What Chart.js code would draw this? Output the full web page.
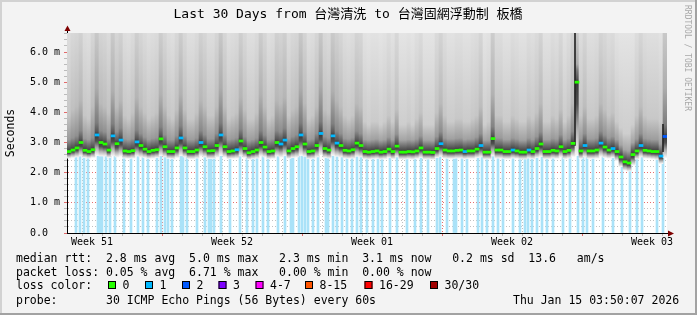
<!doctype html>
<html lang="en">
<head>
<meta charset="UTF-8">
<title>Last 30 Days - SmokePing</title>
<script src="https://cdn.jsdelivr.net/npm/chart.js"></script>
<style>
  html, body { margin: 0; padding: 0; background: #f3f3f3; }
  #wrap { width: 697px; height: 315px; }
</style>
</head>
<body>
<div id="wrap"><canvas id="smokeChart" width="697" height="315"></canvas></div>
<script>
// one column = 0.2 day, oldest first (150 columns = 30 days)
const median = [
  2.70, 2.75, 2.82, 3.00, 2.74, 2.70, 2.76, 3.25, 3.00, 2.95,
  2.75, 3.22, 2.96, 3.08, 2.72, 2.70, 2.73, 3.02, 2.90, 2.78,
  2.70, 2.74, 2.76, 3.12, 2.86, 2.70, 2.70, 2.82, 3.15, 2.82,
  2.70, 2.70, 2.75, 3.00, 2.86, 2.72, 2.73, 2.90, 3.25, 2.86,
  2.70, 2.72, 2.76, 3.05, 2.80, 2.66, 2.70, 2.75, 3.00, 2.85,
  2.70, 2.72, 3.00, 2.95, 3.08, 2.72, 2.80, 2.86, 3.25, 2.95,
  2.70, 2.72, 2.90, 3.30, 2.80, 2.75, 3.22, 2.98, 2.90, 2.74,
  2.72, 2.76, 2.98, 2.90, 2.70, 2.68, 2.70, 2.72, 2.68, 2.70,
  2.78, 2.70, 2.88, 2.68, 2.68, 2.70, 2.69, 2.72, 2.82, 2.68,
  2.68, 2.67, 2.80, 2.96, 2.75, 2.72, 2.72, 2.74, 2.75, 2.70,
  2.72, 2.72, 2.78, 2.90, 2.68, 2.68, 3.13, 2.75, 2.75, 2.70,
  2.70, 2.75, 2.72, 2.68, 2.68, 2.75, 2.70, 2.80, 2.95, 2.70,
  2.70, 2.74, 2.72, 2.86, 2.70, 2.74, 2.97, 5.00, 2.72, 2.90,
  2.72, 2.72, 2.75, 2.98, 2.85, 2.75, 2.80, 2.70, 2.52, 2.36,
  2.32, 2.60, 2.72, 2.90, 2.74, 2.72, 2.70, 2.70, 2.55, 3.20
];
// lower edge of the smoke (fastest pings)
const smokeLow = [
  2.48, 2.50, 2.52, 2.55, 2.50, 2.48, 2.50, 2.58, 2.55, 2.55,
  2.50, 2.56, 2.52, 2.55, 2.48, 2.47, 2.48, 2.55, 2.52, 2.50,
  2.47, 2.48, 2.50, 2.56, 2.52, 2.47, 2.46, 2.50, 2.56, 2.52,
  2.46, 2.46, 2.48, 2.55, 2.52, 2.47, 2.47, 2.52, 2.58, 2.52,
  2.46, 2.47, 2.48, 2.55, 2.50, 2.44, 2.46, 2.48, 2.55, 2.52,
  2.46, 2.47, 2.55, 2.52, 2.56, 2.47, 2.50, 2.52, 2.58, 2.54,
  2.46, 2.47, 2.52, 2.60, 2.50, 2.48, 2.58, 2.54, 2.52, 2.48,
  2.47, 2.48, 2.54, 2.52, 2.46, 2.45, 2.46, 2.47, 2.45, 2.46,
  2.50, 2.46, 2.52, 2.45, 2.45, 2.46, 2.45, 2.47, 2.50, 2.45,
  2.45, 2.44, 2.50, 2.54, 2.48, 2.47, 2.47, 2.48, 2.48, 2.46,
  2.47, 2.47, 2.50, 2.52, 2.45, 2.45, 2.55, 2.48, 2.48, 2.46,
  2.46, 2.48, 2.47, 2.45, 2.45, 2.48, 2.46, 2.50, 2.53, 2.46,
  2.46, 2.48, 2.47, 2.52, 2.46, 2.48, 2.54, 2.60, 2.47, 2.52,
  2.47, 2.47, 2.48, 2.54, 2.50, 2.48, 2.50, 2.40, 2.20, 2.08,
  2.05, 2.25, 2.45, 2.52, 2.48, 2.47, 2.46, 2.44, 2.30, 2.50
];
// where the dense part of the smoke thins out above the median
const smokeHigh = [
  3.9, 4.1, 4.2, 4.4, 3.9, 3.8, 4.2, 4.8, 4.3, 4.2,
  4.0, 4.7, 4.2, 4.4, 3.9, 3.8, 4.0, 4.5, 4.2, 4.0,
  3.8, 3.9, 4.0, 4.6, 4.2, 3.9, 3.8, 4.1, 4.6, 4.1,
  3.8, 3.8, 4.0, 4.4, 4.2, 3.9, 3.9, 4.2, 4.8, 4.2,
  3.8, 3.9, 4.0, 4.5, 4.1, 3.8, 3.8, 4.0, 4.6, 4.2,
  3.8, 3.9, 4.4, 4.3, 4.5, 3.9, 4.1, 4.2, 4.8, 4.3,
  3.8, 3.9, 4.2, 4.9, 4.1, 4.0, 4.7, 4.4, 4.2, 3.9,
  3.8, 3.9, 4.3, 4.2, 3.7, 3.6, 3.7, 3.7, 3.6, 3.7,
  3.9, 3.7, 4.1, 3.6, 3.6, 3.7, 3.6, 3.8, 4.0, 3.6,
  3.6, 3.6, 4.0, 4.3, 3.9, 3.7, 3.7, 3.8, 3.8, 3.7,
  3.7, 3.8, 3.9, 4.2, 3.6, 3.7, 4.6, 3.9, 3.9, 3.7,
  3.7, 3.9, 3.8, 3.7, 3.7, 3.9, 3.8, 4.0, 4.3, 3.7,
  3.7, 3.9, 3.8, 4.1, 3.7, 3.9, 4.3, 5.6, 3.9, 4.2,
  3.8, 3.8, 3.9, 4.3, 4.1, 3.9, 4.0, 3.7, 3.5, 3.3,
  3.3, 3.6, 3.9, 4.2, 3.9, 3.8, 3.8, 3.8, 3.7, 4.8
];
// lost pings out of 30 per column (median colour)
const lostPings = [
  0, 0, 0, 0, 0, 0, 0, 1, 0, 0,
  0, 1, 0, 1, 0, 0, 0, 1, 0, 0,
  0, 0, 0, 0, 0, 0, 0, 0, 1, 0,
  0, 0, 0, 1, 0, 0, 0, 0, 1, 0,
  0, 0, 1, 0, 0, 0, 0, 0, 0, 0,
  0, 0, 0, 1, 1, 0, 0, 0, 1, 0,
  0, 0, 0, 1, 0, 0, 1, 1, 0, 0,
  0, 0, 0, 0, 0, 0, 0, 0, 0, 0,
  0, 0, 0, 0, 0, 0, 0, 0, 0, 0,
  0, 0, 0, 1, 0, 0, 0, 0, 0, 1,
  0, 0, 0, 1, 0, 0, 0, 0, 0, 0,
  0, 1, 0, 0, 0, 1, 0, 0, 0, 0,
  0, 0, 0, 0, 0, 0, 0, 0, 0, 1,
  0, 0, 0, 1, 0, 0, 1, 0, 0, 0,
  0, 0, 0, 1, 0, 0, 0, 0, 1, 2
];
// days (from graph start) with packet loss
const lossDays = [
  0.45, 0.65, 0.85, 1.05, 1.55, 1.65, 1.75, 1.95, 2.15, 2.40,
  2.85, 3.20, 3.55, 3.80, 4.05, 4.50, 4.70, 4.90, 5.05, 5.25,
  5.70, 5.80, 6.00, 6.50, 6.90, 7.10, 7.20, 7.35, 7.70, 8.15,
  8.65, 9.00, 9.30, 9.50, 9.80, 10.05, 10.55, 10.90, 11.20, 11.30,
  11.60, 11.75, 11.90, 12.05, 12.30, 12.55, 12.95, 13.05, 13.30, 13.50,
  13.75, 14.00, 14.25, 14.50, 14.70, 15.00, 15.30, 15.55, 15.75, 16.15,
  16.50, 17.00, 17.40, 17.70, 18.05, 18.50, 18.65, 19.00, 19.35, 19.45,
  19.75, 20.00, 20.55, 20.75, 21.00, 21.30, 21.55, 21.80, 22.30, 22.65,
  22.90, 23.05, 23.25, 23.50, 23.75, 24.00, 24.30, 24.80, 25.15, 25.55,
  25.80, 26.00, 26.30, 26.80, 27.30, 27.75, 28.15, 28.50, 28.75, 29.50,
  29.80
];
// single very slow pings drawn as thin dark streaks
const spikeDays = [25.4, 29.8];
const spikeBases = [2.9, 2.7];
const spikeTops = [6.63, 3.6];

const weekLabels = ['Week 51', 'Week 52', 'Week 01', 'Week 02', 'Week 03'];
const weekLabelDays = [1.25, 8.25, 15.25, 22.25, 29.25];
const weekStartDays = [4.75, 11.75, 18.75, 25.75];
const dayLineFirst = 0.75;

const lossLabels = ['0', '1', '2', '3', '4-7', '8-15', '16-29', '30/30'];
const lossColors = ['#26ff00', '#00b8ff', '#0059ff', '#7e00ff', '#ff00ff', '#ff5500', '#ff0000', '#a00000'];

const Y_MAX = 6.63;
const COL_DAYS = 0.2;
const MEDIAN_HALF = 0.035;

const MONO = '"DejaVu Sans Mono", "Noto Sans CJK TC", monospace';
const near = (a, b) => Math.abs(a - b) < 1e-6;

const colX = median.map((v, i) => +(COL_DAYS / 2 + COL_DAYS * i).toFixed(2));

const gray = n => { const h = Math.round(n).toString(16).padStart(2, '0'); return '#' + h + h + h; };

// gray gradient for one smoke column; taller smoke gives a darker streak
function smokeFill(ctx) {
  const chart = ctx.chart;
  if (!chart.chartArea || ctx.type !== 'data') return '#cccccc';
  const y = chart.scales.y, i = ctx.dataIndex;
  const top = y.getPixelForValue(Y_MAX), bot = y.getPixelForValue(smokeLow[i]);
  const f = v => Math.min(1, Math.max(0, (y.getPixelForValue(v) - top) / (bot - top)));
  const g = chart.ctx.createLinearGradient(0, top, 0, bot);
  const m = median[i], lo = smokeLow[i], hi = Math.max(smokeHigh[i], m + 0.5);
  const t = Math.min(1, Math.max(0, (smokeHigh[i] - 3.6) / 1.2));
  g.addColorStop(0, gray(228 - 28 * t));
  g.addColorStop(f(hi), gray(206 - 34 * t));
  g.addColorStop(f(m + 0.4), gray(164 - 40 * t));
  g.addColorStop(f(m + 0.12), '#585858');
  g.addColorStop(f(m), '#383838');
  g.addColorStop(f(m - (m - lo) * 0.3), '#505050');
  g.addColorStop(f(m - (m - lo) * 0.65), '#b0b0b0');
  g.addColorStop(1, '#f4f4f4');
  return g;
}

function xTickValues() {
  const vals = [];
  for (let k = 0; k < 30; k++) vals.push(dayLineFirst + k);
  weekLabelDays.forEach(d => vals.push(d));
  return vals.sort((a, b) => a - b);
}

const rrdDecor = {
  id: 'rrdDecor',
  beforeDraw(chart) {
    const c = chart.ctx, a = chart.chartArea;
    c.save();
    c.fillStyle = '#f3f3f3';
    c.fillRect(0, 0, 697, 315);
    c.fillStyle = '#d2d2d2';
    c.fillRect(0, 0, 697, 2);
    c.fillRect(0, 0, 2, 315);
    c.fillStyle = '#a2a2a2';
    c.fillRect(0, 313, 697, 2);
    c.fillRect(695, 0, 2, 315);
    c.fillStyle = '#ffffff';
    c.fillRect(a.left, a.top, a.right - a.left, a.bottom - a.top);
    c.restore();
  },
  afterDraw(chart) {
    const c = chart.ctx, a = chart.chartArea;
    c.save();
    // axis extensions and arrows
    c.strokeStyle = '#000';
    c.lineWidth = 1;
    c.beginPath();
    c.moveTo(a.left + 0.5, a.top);
    c.lineTo(a.left + 0.5, 29);
    c.moveTo(a.right, a.bottom + 0.5);
    c.lineTo(669, a.bottom + 0.5);
    c.stroke();
    c.fillStyle = '#7f0000';
    c.beginPath();
    c.moveTo(a.left + 0.5, 25.5);
    c.lineTo(a.left - 2.5, 31);
    c.lineTo(a.left + 3.5, 31);
    c.closePath();
    c.fill();
    c.beginPath();
    c.moveTo(674, a.bottom + 0.5);
    c.lineTo(668, a.bottom - 2.5);
    c.lineTo(668, a.bottom + 3.5);
    c.closePath();
    c.fill();

    // title
    c.fillStyle = '#000';
    c.font = '13px ' + MONO;
    c.textAlign = 'center';
    c.textBaseline = 'middle';
    c.fillText('Last 30 Days from 台灣清洗 to 台灣固網浮動制 板橋', 348, 15);

    // vertical axis title
    c.save();
    c.translate(11, 133);
    c.rotate(-Math.PI / 2);
    c.font = '11.5px ' + MONO;
    c.fillText('Seconds', 0, 0);
    c.restore();

    // watermark
    c.save();
    c.translate(687, 5);
    c.rotate(Math.PI / 2);
    c.font = '8px ' + MONO;
    c.fillStyle = '#a8a8a8';
    c.textAlign = 'left';
    c.fillText('RRDTOOL / TOBI OETIKER', 0, 0);
    c.restore();

    // legend rows
    c.font = '11.5px ' + MONO;
    c.textAlign = 'left';
    c.fillStyle = '#000';
    c.fillText('median rtt:  2.8 ms avg  5.0 ms max   2.3 ms min  3.1 ms now   0.2 ms sd  13.6   am/s', 16, 259);
    c.fillText('packet loss: 0.05 % avg  6.71 % max   0.00 % min  0.00 % now', 16, 273);
    c.fillText('loss color:', 16, 286);
    c.fillText('probe:       30 ICMP Echo Pings (56 Bytes) every 60s', 16, 301);
    c.fillText('Thu Jan 15 03:50:07 2026', 513, 301);

    const boxLeft = [108, 145, 182, 218.5, 255.5, 305, 364.5, 430];
    lossLabels.forEach((lab, k) => {
      const bx = boxLeft[k];
      c.fillStyle = lossColors[k];
      c.fillRect(bx, 281, 8, 8);
      c.strokeStyle = '#000';
      c.strokeRect(bx + 0.5, 281.5, 7, 7);
      c.fillStyle = '#000';
      c.fillText(lab, bx + 14.5, 286);
    });
    c.restore();
  }
};

const tickFont = { family: MONO, size: 10 };

new Chart(document.getElementById('smokeChart'), {
  type: 'bar',
  data: {
    datasets: [
      {
        label: 'median rtt',
        data: median.map((v, i) => ({ x: colX[i], y: [v - MEDIAN_HALF, v + MEDIAN_HALF] })),
        backgroundColor: ctx => lossColors[Math.min(2, lostPings[ctx.dataIndex] || 0)],
        barThickness: 4,
        grouped: false,
        order: 1
      },
      {
        label: 'spikes',
        data: spikeDays.map((d, k) => ({ x: d, y: [spikeBases[k], spikeTops[k]] })),
        backgroundColor: '#262626',
        barThickness: 1,
        grouped: false,
        order: 2
      },
      {
        label: 'smoke',
        data: smokeLow.map((v, i) => ({ x: colX[i], y: [v, Y_MAX] })),
        backgroundColor: smokeFill,
        barThickness: 4,
        grouped: false,
        order: 3
      },
      {
        label: 'loss',
        data: lossDays.map(d => ({ x: d, y: [0, 2.55] })),
        backgroundColor: '#aae2f8',
        barThickness: 2,
        grouped: false,
        order: 4
      }
    ]
  },
  options: {
    responsive: false,
    animation: false,
    events: [],
    layout: { padding: { left: 0, top: 33, right: 30, bottom: 62 } },
    plugins: { legend: { display: false }, tooltip: { enabled: false }, title: { display: false } },
    scales: {
      x: {
        type: 'linear',
        min: 0,
        max: 30,
        offset: false,
        z: 1,
        afterFit: s => { s.height = 20; },
        afterBuildTicks: s => { s.ticks = xTickValues().map(v => ({ value: v })); },
        grid: {
          offset: false,
          tickLength: 3,
          color: ctx => {
            const v = ctx.tick ? ctx.tick.value : 0;
            if (weekStartDays.some(d => near(d, v))) return 'rgba(222, 60, 60, 0.75)';
            if (weekLabelDays.some(d => near(d, v))) return 'rgba(0,0,0,0)';
            return 'rgba(150, 150, 150, 0.6)';
          }
        },
        border: { display: true, color: '#000', width: 1, dash: [1, 2] },
        ticks: {
          autoSkip: false,
          maxRotation: 0,
          padding: 0,
          color: '#000',
          font: tickFont,
          callback: v => {
            const k = weekLabelDays.findIndex(d => near(d, v));
            return k >= 0 ? weekLabels[k] : '';
          }
        }
      },
      y: {
        min: 0,
        max: Y_MAX,
        z: 1,
        afterFit: s => { s.width = 67; },
        grid: {
          tickLength: 3,
          color: ctx => {
            const v = ctx.tick ? ctx.tick.value : 0;
            return near(v, Math.round(v)) ? 'rgba(222, 60, 60, 0.75)' : 'rgba(150, 150, 150, 0.6)';
          }
        },
        border: { display: true, color: '#000', width: 1, dash: [1, 2] },
        ticks: {
          stepSize: 0.2,
          includeBounds: false,
          autoSkip: false,
          padding: 4,
          color: '#000',
          font: tickFont,
          callback: v => {
            if (!near(v, Math.round(v))) return '';
            return v === 0 ? '0.0  ' : Math.round(v).toFixed(1) + ' m';
          }
        }
      }
    }
  },
  plugins: [rrdDecor]
});
</script>
</body>
</html>
